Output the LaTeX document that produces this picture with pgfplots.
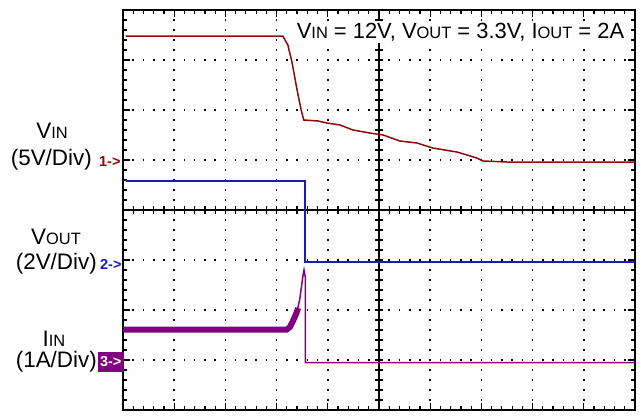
\documentclass[border=0pt]{standalone}
\usepackage{pgfplots}
\pgfplotsset{compat=1.18}
\usepackage{fontspec}
\setmainfont{Liberation Sans}
\definecolor{vin}{RGB}{140,10,10}
\definecolor{vout}{RGB}{25,25,195}
\definecolor{iin}{RGB}{128,0,128}
\newcommand\sm[1]{{\fontsize{16.5}{16.5}\selectfont #1}}
\begin{document}
\begin{tikzpicture}[x=1bp,y=1bp]
\useasboundingbox (-123,-6) rectangle (521,410);
\begin{axis}[
  at={(0,0)}, anchor=south west,
  scale only axis, width=512bp, height=400bp,
  xmin=0, xmax=10, ymin=0, ymax=8,
  xtick={0,...,10}, ytick={0,...,8},
  minor x tick num=4, minor y tick num=4,
  xticklabels={}, yticklabels={},
  tick align=inside, tick pos=both,
  major tick length=7bp, minor tick length=4bp,
  every tick/.style={black, line width=1.2bp},
  axis line style={line width=1.8bp},
  grid=major,
  major grid style={black, line width=1.6bp},
  every axis x grid/.append style={dash pattern=on 1.6bp off 8.4bp, dash phase=0.8bp},
  every axis y grid/.append style={dash pattern=on 1.6bp off 8.64bp, dash phase=0.8bp},
  clip=false,
]
% center cross-hair
\draw[black, line width=1.4bp] (axis cs:5,0) -- (axis cs:5,8);
\draw[black, line width=1.4bp] (axis cs:0,4) -- (axis cs:10,4);
\pgfplotsinvokeforeach{0.2,0.4,...,9.8}{
  \draw[black, line width=1.2bp] (axis cs:#1,3.92) -- (axis cs:#1,4.08);
}
\pgfplotsinvokeforeach{0.2,0.4,...,7.8}{
  \draw[black, line width=1.2bp] (axis cs:4.92,#1) -- (axis cs:5.08,#1);
}
% V_IN
\addplot[vin, line width=1.5bp] coordinates {
 (0.05,7.48)(3.12,7.48)(3.22,7.30)(3.30,6.96)(3.40,6.40)(3.48,6.00)(3.53,5.80)
 (3.81,5.78)(3.98,5.74)(4.24,5.70)(4.49,5.60)(4.82,5.54)(5.08,5.50)(5.41,5.38)
 (5.74,5.34)(6.05,5.24)(6.52,5.16)(6.72,5.10)(6.91,5.04)(7.03,4.98)(7.50,4.96)(10,4.96)
};
% V_OUT
\addplot[vout, line width=1.5bp] coordinates {
 (0.05,4.58)(3.55,4.58)(3.55,2.96)(10,2.96)
};
% I_IN
\addplot[iin, line width=6bp] coordinates {
 (0,1.61)(3.20,1.61)(3.26,1.66)(3.32,1.78)(3.38,1.92)(3.42,2.04)
};
\addplot[iin, line width=1.5bp] coordinates {
 (3.40,1.98)(3.45,2.20)(3.49,2.50)(3.52,2.72)(3.535,2.80)(3.56,2.66)(3.56,0.95)(10,0.95)
};
\end{axis}
% labels
\node[fill=white, inner sep=2bp, font=\fontsize{22}{22}\selectfont] at (337.5,378)
  {V\sm{IN} = 12V, V\sm{OUT} = 3.3V, I\sm{OUT} = 2A};
\begin{scope}[every node/.style={font=\fontsize{22.5}{22.5}\selectfont, inner sep=0pt}]
\node at (-71,279) {V\sm{IN}};
\node[anchor=east] at (-31,250) {(5V/Div)};
\node at (-67,173) {V\sm{OUT}};
\node[anchor=east] at (-26,146) {(2V/Div)};
\node at (-69,71) {I\sm{IN}};
\node[anchor=east] at (-26,48) {(1A/Div)};
\end{scope}
\node[anchor=west, inner sep=0pt, text=vin, font=\bfseries\fontsize{14.5}{14.5}\selectfont] at (-24,248) {1->};
\node[anchor=west, inner sep=0pt, text=vout, font=\bfseries\fontsize{14.5}{14.5}\selectfont] at (-23,146) {2->};
\node[anchor=west, inner sep=1pt, fill=iin, text=white, minimum height=20bp, minimum width=26bp,
  font=\bfseries\fontsize{14.5}{14.5}\selectfont] at (-25.5,48) {3->};
\end{tikzpicture}
\end{document}
